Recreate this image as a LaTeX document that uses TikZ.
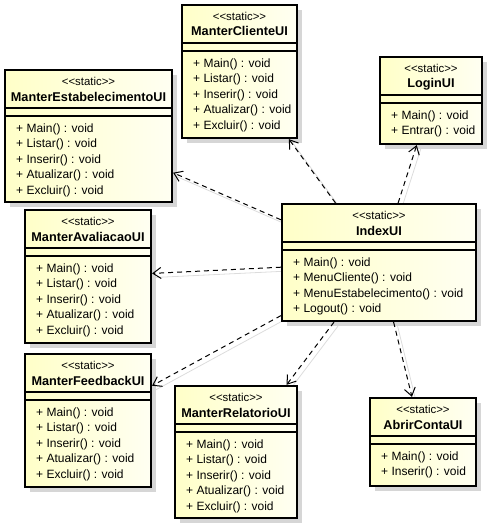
\documentclass[tikz,border=0pt]{standalone}
\usepackage{fontspec}
\setmainfont{Liberation Sans}[Ligatures=TeXOff]
\usetikzlibrary{arrows.meta}

\definecolor{boxfillA}{HTML}{FFFFC8}
\definecolor{boxfillB}{HTML}{FFFFF2}
\definecolor{shadowgray}{HTML}{D6D6D6}
\definecolor{lineshadow}{HTML}{DCDCDC}

\pgfdeclarelayer{bg}
\pgfsetlayers{bg,main}

% \umlclass{name}{left}{top}{width}{height}{class name}{operations}
\newcommand\umlclass[7]{%
  \begin{pgfonlayer}{bg}
    \fill[boxshadow] (#2+5,#3+5) rectangle (#2+#4+5,#3+#5+5);
  \end{pgfonlayer}
  \node[classbox, minimum width=#4pt, minimum height=#5pt] (#1) at (#2+#4/2,#3+#5/2) {};
  \node[stereo, anchor=base] (#1-st) at (#2+#4/2,#3+15.5) {<<static>>};
  \node[cname, anchor=base] (#1-nm) at (#2+#4/2,#3+31) {#6};
  \draw[sepline] (#2,#3+38) -- (#2+#4,#3+38);
  \draw[sepline] (#2,#3+46) -- (#2+#4,#3+46);
  \foreach \m [count=\i from 0] in {#7}
    \node[method, anchor=base west] (#1-m\i) at (#2+11,#3+62+15.5*\i) {\m};
}

\begin{document}
\begin{tikzpicture}[x=1pt,y=-1pt,
  classbox/.style={draw=black, line width=2.2pt, left color=boxfillA, right color=boxfillB, inner sep=0pt},
  boxshadow/.style={fill=shadowgray},
  sepline/.style={line width=1.2pt},
  stereo/.style={font=\fontsize{11.4}{13}\selectfont, inner sep=0pt},
  cname/.style={font=\fontsize{12.7}{14}\selectfont\bfseries, inner sep=0pt},
  method/.style={font=\fontsize{12}{14}\selectfont, inner sep=0pt},
  depend/.style={draw=black, line width=1pt, dash pattern=on 5pt off 4pt,
    -{Straight Barb[length=8pt,width=11pt,line width=1pt]}},
  depshadow/.style={draw=lineshadow, line width=0.8pt, transform canvas={xshift=4pt,yshift=-4pt}},
]
\useasboundingbox (0,0) rectangle (491,527);

\umlclass{ManterClienteUI}{182}{5}{115}{133}{ManterClienteUI}
  {+ Main() : void, + Listar() : void, + Inserir() : void, + Atualizar() : void, + Excluir() : void}
\umlclass{ManterEstabelecimentoUI}{5}{70}{167}{132}{ManterEstabelecimentoUI}
  {+ Main() : void, + Listar() : void, + Inserir() : void, + Atualizar() : void, + Excluir() : void}
\umlclass{LoginUI}{380}{57}{102}{87}{LoginUI}
  {+ Main() : void, + Entrar() : void}
\umlclass{ManterAvaliacaoUI}{25}{210}{126}{133}{ManterAvaliacaoUI}
  {+ Main() : void, + Listar() : void, + Inserir() : void, + Atualizar() : void, + Excluir() : void}
\umlclass{IndexUI}{282}{204}{194}{117}{IndexUI}
  {+ Main() : void, + MenuCliente() : void, + MenuEstabelecimento() : void, + Logout() : void}
\umlclass{ManterFeedbackUI}{25}{354}{126}{133}{ManterFeedbackUI}
  {+ Main() : void, + Listar() : void, + Inserir() : void, + Atualizar() : void, + Excluir() : void}
\umlclass{ManterRelatorioUI}{175}{386}{122}{132}{ManterRelatorioUI}
  {+ Main() : void, + Listar() : void, + Inserir() : void, + Atualizar() : void, + Excluir() : void}
\umlclass{AbrirContaUI}{370}{398}{106}{88}{AbrirContaUI}
  {+ Main() : void, + Inserir() : void}

% faint shadows of the dependency lines
\begin{pgfonlayer}{bg}
  \foreach \t in {ManterClienteUI,LoginUI,ManterEstabelecimentoUI,ManterAvaliacaoUI,
                  ManterFeedbackUI,ManterRelatorioUI,AbrirContaUI}
    \draw[depshadow] (IndexUI) -- (\t);
\end{pgfonlayer}

% dependencies
\foreach \t in {ManterClienteUI,LoginUI,ManterEstabelecimentoUI,ManterAvaliacaoUI,
                ManterFeedbackUI,ManterRelatorioUI,AbrirContaUI}
  \draw[depend] (IndexUI) -- (\t);
\end{tikzpicture}
\end{document}
